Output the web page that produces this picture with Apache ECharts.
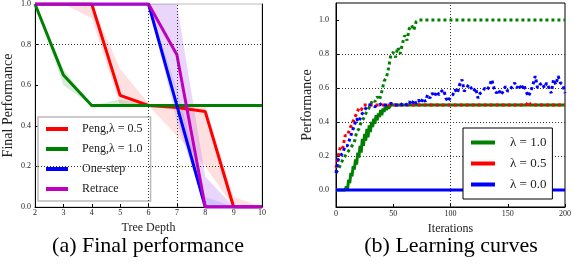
<!DOCTYPE html>
<html><head><meta charset="utf-8">
<script src="https://cdn.jsdelivr.net/npm/echarts@6/dist/echarts.min.js"></script>
<style>html,body{margin:0;padding:0;background:#fff}#c{width:574px;height:272px}</style>
</head><body><div id="c"></div>
<script>
// ---------- (a) Final performance ----------
const depthCats = ['2','3','4','5','6','7','8','9','10'];
const pengHalf   = [1, 1, 1, 0.55, 0.5, 0.49, 0.47, 0, 0];
const pengOne    = [1, 0.65, 0.5, 0.5, 0.5, 0.5, 0.5, 0.5, 0.5];
const oneStep    = [1, 1, 1, 1, 1, 0.5, 0, 0, 0];
const retrace    = [1, 1, 1, 1, 1, 0.75, 0, 0, 0];
const pengHalfLo = [1, 1, 0.93, 0.5, 0.5, 0.35, 0.2, 0, 0];
const pengHalfHi = [1, 1, 1, 0.68, 0.51, 0.5, 0.5, 0.05, 0];
const pengOneLo  = [1, 0.6, 0.5, 0.5, 0.5, 0.5, 0.5, 0.5, 0.5];
const pengOneHi  = [1, 0.68, 0.5, 0.53, 0.5, 0.5, 0.5, 0.5, 0.5];
const oneStepLo  = [1, 1, 1, 1, 1, 0.42, 0, 0, 0];
const oneStepHi  = [1, 1, 1, 1, 1, 0.58, 0.05, 0, 0];
const retraceLo  = [1, 1, 1, 1, 1, 0.55, 0, 0, 0];
const retraceHi  = [1, 1, 1, 1, 1, 1.0, 0.15, 0, 0];

// ---------- (b) Learning curves ----------
const greenSolid = [[0,0],[8,0],[9,0.02],[10,0],[11,0.06],[12,0.04],[13,0.1],[14,0.08],[15,0.14],[16,0.12],[17,0.18],[18,0.15],[19,0.22],[20,0.19],[21,0.26],[22,0.22],[23,0.3],[24,0.26],[25,0.33],[26,0.29],[27,0.36],[28,0.31],[29,0.38],[30,0.34],[31,0.4],[32,0.37],[33,0.42],[34,0.39],[35,0.44],[36,0.41],[37,0.45],[38,0.43],[39,0.47],[40,0.44],[41,0.48],[42,0.46],[43,0.49],[44,0.47],[45,0.5],[46,0.48],[48,0.5],[50,0.5],[200,0.5]];
const greenDotted = [[0,0.1],[2,0.12],[4,0.15],[6,0.18],[8,0.2],[10,0.22],[12,0.24],[14,0.26],[16,0.28],[18,0.34],[20,0.36],[22,0.4],[24,0.42],[26,0.45],[28,0.47],[30,0.5],[32,0.53],[34,0.52],[36,0.55],[38,0.53],[40,0.58],[42,0.64],[44,0.66],[46,0.72],[48,0.8],[50,0.81],[52,0.78],[54,0.84],[56,0.8],[58,0.86],[60,0.91],[62,0.88],[64,0.95],[66,0.97],[68,0.94],[70,0.99],[72,1.0],[200,1.0]];
const redDotted = [[0,0.13],[2,0.2],[4,0.26],[6,0.25],[8,0.32],[10,0.32],[12,0.36],[14,0.39],[16,0.42],[18,0.45],[20,0.48],[22,0.47],[24,0.5],[26,0.5],[166,0.5],[168,0.52],[170,0.5],[200,0.5]];
const blueSolid = [[0,0],[200,0]];
const blueDotted = [[0,0.1],[2,0.18],[4,0.2],[6,0.22],[8,0.26],[10,0.26],[12,0.3],[14,0.34],[16,0.38],[18,0.42],[20,0.4],[22,0.44],[24,0.46],[26,0.48],[28,0.5],[30,0.5],[32,0.5],[34,0.49],[36,0.5],[38,0.5],[40,0.51],[42,0.5],[44,0.5],[46,0.5],[48,0.51],[50,0.5],[52,0.5],[54,0.5],[56,0.51],[58,0.5],[60,0.51],[62,0.5],[64,0.52],[66,0.5],[68,0.53],[70,0.51],[72,0.53],[74,0.51],[76,0.54],[78,0.52],[80,0.56],[82,0.54],[84,0.57],[86,0.55],[88,0.58],[90,0.56],[92,0.58],[94,0.59],[96,0.54],[98,0.52],[100,0.55],[102,0.56],[104,0.59],[106,0.57],[108,0.62],[110,0.65],[112,0.58],[114,0.6],[116,0.62],[118,0.6],[120,0.58],[122,0.6],[124,0.54],[126,0.57],[128,0.58],[130,0.6],[132,0.59],[134,0.61],[136,0.65],[138,0.6],[140,0.57],[142,0.59],[144,0.56],[146,0.58],[148,0.61],[150,0.58],[152,0.59],[154,0.61],[156,0.63],[158,0.6],[160,0.62],[162,0.59],[164,0.62],[166,0.58],[168,0.55],[170,0.58],[172,0.62],[174,0.67],[176,0.6],[178,0.62],[180,0.63],[182,0.6],[184,0.63],[186,0.6],[188,0.57],[190,0.65],[192,0.62],[194,0.67],[196,0.63],[198,0.62],[200,0.57]];
const rightYTicks = [0, 0.2, 0.4, 0.6, 0.8, 1.0];

const RED = '#ff0000', GREEN = '#008000', BLUE = '#0000ff', MAG = '#bf00bf';
const SERIF = '"Liberation Serif", "DejaVu Serif", serif';

const chart = echarts.init(document.getElementById('c'), null, {renderer: 'canvas'});

function band(id, lo, hi, color) {
  return [
    {name: id + '-lo', type: 'line', xAxisIndex: 0, yAxisIndex: 0, data: lo, stack: id,
     symbol: 'none', lineStyle: {opacity: 0}, silent: true, z: 1},
    {name: id + '-hi', type: 'line', xAxisIndex: 0, yAxisIndex: 0, data: hi.map((v, i) => +(v - lo[i]).toFixed(4)), stack: id,
     symbol: 'none', lineStyle: {opacity: 0}, areaStyle: {color: color, opacity: 1}, silent: true, z: 1}
  ];
}

function leftLine(name, data, color) {
  return {name, type: 'line', xAxisIndex: 0, yAxisIndex: 0, data, symbol: 'none',
          lineStyle: {color, width: 3}, itemStyle: {color}, z: 3};
}
function rightLine(name, data, color, dotted) {
  return {name, type: 'line', xAxisIndex: 1, yAxisIndex: 2, data, symbol: 'none',
          lineStyle: {color, width: 3, type: dotted ? [3, 3] : 'solid', cap: 'butt'},
          itemStyle: {color}, z: 3};
}

const gridLine = {color: '#333', width: 1, type: [1, 2]};
const redBand = band('bandRed', pengHalfLo, pengHalfHi, 'rgba(255,0,0,0.12)');

const option = {
  animation: false,
  grid: [
    {left: 33, right: 312, top: 4, bottom: 65, show: true, borderColor: '#bbb', borderWidth: 1},
    {left: 336, right: 8, top: 3, bottom: 65, show: true, borderColor: '#000', borderWidth: 1}
  ],
  xAxis: [
    {gridIndex: 0, type: 'category', data: depthCats, boundaryGap: false,
     name: 'Tree Depth', nameLocation: 'middle', nameGap: 14,
     nameTextStyle: {fontFamily: SERIF, fontSize: 12, color: '#222'},
     axisLine: {lineStyle: {color: '#000', width: 1}},
     axisTick: {inside: true, length: 3, lineStyle: {color: '#000'}},
     axisLabel: {fontFamily: SERIF, fontSize: 8, color: '#222', margin: 2},
     splitLine: {show: false}},
    {gridIndex: 1, type: 'value', min: 0, max: 200, interval: 50,
     name: 'Iterations', nameLocation: 'middle', nameGap: 15,
     nameTextStyle: {fontFamily: SERIF, fontSize: 12, color: '#222'},
     axisLine: {onZero: false, lineStyle: {color: '#000', width: 1}},
     axisTick: {inside: true, length: 3, lineStyle: {color: '#000'}},
     axisLabel: {fontFamily: SERIF, fontSize: 8, color: '#222', margin: 3},
     splitLine: {show: false}}
  ],
  yAxis: [
    {gridIndex: 0, type: 'value', min: 0, max: 1, interval: 0.2, position: 'left',
     name: 'Final Performance', nameLocation: 'middle', nameGap: 20, nameRotate: 90,
     nameTextStyle: {fontFamily: SERIF, fontSize: 14, color: '#222'},
     axisLine: {show: true, lineStyle: {color: '#000', width: 1}},
     axisTick: {show: true, inside: true, length: 3, lineStyle: {color: '#000'}},
     axisLabel: {fontFamily: SERIF, fontSize: 8, color: '#222', margin: 4, formatter: v => v.toFixed(1)},
     splitLine: {show: false}},
    {gridIndex: 0, type: 'value', min: 0, max: 1, interval: 0.2, position: 'right',
     axisLine: {show: true, lineStyle: {color: '#000', width: 1}},
     axisTick: {show: false}, axisLabel: {show: false}, splitLine: {show: false}},
    {gridIndex: 1, type: 'value', min: -0.1, max: 1.1, position: 'left',
     name: 'Performance', nameLocation: 'middle', nameGap: 22, nameRotate: 90,
     nameTextStyle: {fontFamily: SERIF, fontSize: 14, color: '#222'},
     axisLine: {show: true, onZero: false, lineStyle: {color: '#000', width: 1}},
     axisTick: {show: true, inside: true, length: 3, customValues: rightYTicks, lineStyle: {color: '#000'}},
     axisLabel: {fontFamily: SERIF, fontSize: 8, color: '#222', margin: 7, customValues: rightYTicks, formatter: v => v.toFixed(1)},
     splitLine: {show: false}}
  ],
  legend: [
    {left: 38, top: 117, orient: 'vertical', backgroundColor: '#fff', borderColor: '#bbb', borderWidth: 1.5,
     padding: [6, 8, 6, 8], itemGap: 8, itemWidth: 22, itemHeight: 4, icon: 'rect',
     textStyle: {fontFamily: SERIF, fontSize: 12, color: '#222', padding: [0, 0, 0, 9]},
     data: ['Peng,λ = 0.5', 'Peng,λ = 1.0', 'One-step', 'Retrace'], selectedMode: false},
    {left: 463, top: 128, orient: 'vertical', backgroundColor: '#fff', borderColor: '#000', borderWidth: 1,
     padding: [8, 6, 8, 8], itemGap: 8, itemWidth: 24, itemHeight: 4, icon: 'rect',
     textStyle: {fontFamily: SERIF, fontSize: 13, color: '#222', padding: [0, 0, 0, 10]},
     data: ['λ = 1.0', 'λ = 0.5', 'λ = 0.0'], selectedMode: false}
  ],
  graphic: [
    {type: 'text', style: {text: '(a) Final performance', x: 148, y: 246, textAlign: 'center', textVerticalAlign: 'middle',
      font: '22px ' + SERIF, fill: '#000'}},
    {type: 'text', style: {text: '(b) Learning curves', x: 451, y: 246, textAlign: 'center', textVerticalAlign: 'middle',
      font: '22px ' + SERIF, fill: '#000'}}
  ],
  series: [
    Object.assign(redBand[0], {
      markLine: {silent: true, symbol: 'none', label: {show: false}, lineStyle: gridLine,
                 data: [{yAxis: 0.2}, {yAxis: 0.8}, {xAxis: '6'}, {xAxis: '7'}]}}),
    redBand[1],
    ...band('bandGreen', pengOneLo, pengOneHi, 'rgba(0,128,0,0.15)'),
    ...band('bandBlue', oneStepLo, oneStepHi, 'rgba(60,60,255,0.14)'),
    ...band('bandMag', retraceLo, retraceHi, 'rgba(160,70,235,0.22)'),
    leftLine('Peng,λ = 0.5', pengHalf, RED),
    leftLine('Peng,λ = 1.0', pengOne, GREEN),
    leftLine('One-step', oneStep, BLUE),
    leftLine('Retrace', retrace, MAG),
    Object.assign(rightLine('λ = 1.0', greenSolid, GREEN, false), {
      markLine: {silent: true, symbol: 'none', label: {show: false}, lineStyle: gridLine, z: 1,
                 data: [{yAxis: 0.2}, {yAxis: 0.4}, {yAxis: 0.6}, {yAxis: 0.8}, {xAxis: 100}]}}),
    rightLine('λ = 1.0', greenDotted, GREEN, true),
    rightLine('λ = 0.5', redDotted, RED, true),
    rightLine('λ = 0.0', blueSolid, BLUE, false),
    rightLine('λ = 0.0', blueDotted, BLUE, true)
  ]
};
chart.setOption(option);
</script></body></html>
